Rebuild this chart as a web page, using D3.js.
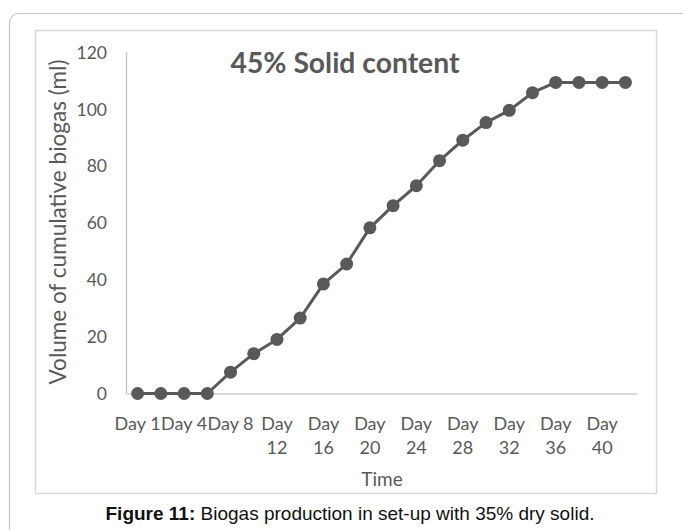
<!DOCTYPE html>
<html>
<head>
<meta charset="utf-8">
<script src="https://cdn.jsdelivr.net/npm/d3@7"></script>
<style>
  html, body { margin: 0; padding: 0; background: #fff; }
  svg { display: block; }
</style>
</head>
<body>
<svg id="chart" width="683" height="530"></svg>
<script>
// Categories (sampling days) and cumulative biogas volume (ml)
const categories = ["Day 1", "Day 2", "Day 4", "Day 6", "Day 8", "Day 10", "Day 12", "Day 14",
  "Day 16", "Day 18", "Day 20", "Day 22", "Day 24", "Day 26", "Day 28", "Day 30",
  "Day 32", "Day 34", "Day 36", "Day 38", "Day 40", "Day 42"];
const volumes = [0, 0, 0, 0, 7.5, 14, 19, 26.5, 38.5, 45.5, 58.2, 66, 73, 81.8,
  89, 95.2, 99.5, 105.7, 109.3, 109.3, 109.3, 109.3];
const yTicks = [0, 20, 40, 60, 80, 100, 120];
// Excel-style: every second category is labelled
const xTickLabels = ["Day 1", "Day 4", "Day 8", "Day 12", "Day 16", "Day 20",
  "Day 24", "Day 28", "Day 32", "Day 36", "Day 40"];

const chartTitle = "45% Solid content";
const yTitle = "Volume of cumulative biogas (ml)";
const xTitle = "Time";

const ink = "#595959";
const svg = d3.select("#chart");

// fit a text element to a target width by adjusting its font size
function fitWidth(sel, target) {
  const w = sel.node().getComputedTextLength();
  const fs = parseFloat(sel.attr("font-size"));
  sel.attr("font-size", (fs * target / w).toFixed(2));
}

// outer figure frame
svg.append("rect")
  .attr("x", 9.5).attr("y", 13.5).attr("width", 690).attr("height", 560)
  .attr("rx", 9).attr("fill", "none").attr("stroke", "#c8c8c8").attr("stroke-width", 1.2);

// chart area border
svg.append("rect")
  .attr("x", 35.5).attr("y", 30.5).attr("width", 621).attr("height", 463)
  .attr("fill", "#fff").attr("stroke", "#d9d9d9").attr("stroke-width", 1.5);

const plot = { left: 126, right: 637, top: 52, bottom: 393.5 };

const x = d3.scaleBand().domain(categories).range([plot.left, plot.right]).padding(0);
const cx = d => x(d) + x.bandwidth() / 2;
const y = d3.scaleLinear().domain([0, 120]).range([plot.bottom, plot.top]);

// y axis
const yAxis = svg.append("g")
  .attr("transform", `translate(${plot.left},0)`)
  .call(d3.axisLeft(y).tickValues(yTicks).tickSize(0).tickPadding(19));
yAxis.select(".domain").attr("stroke", "#bfbfbf").attr("stroke-width", 1.3);
yAxis.selectAll("text")
  .attr("font-family", "Lato, sans-serif").attr("font-size", 17.5).attr("fill", ink)
  .attr("dy", "0.35em");

// x axis
const labelSet = new Set(xTickLabels);
const xAxis = svg.append("g")
  .attr("transform", `translate(0,${plot.bottom})`)
  .call(d3.axisBottom(x).tickSize(0).tickPadding(0)
    .tickFormat(d => labelSet.has(d) ? d : ""));
xAxis.select(".domain").attr("stroke", "#d0d0d0").attr("stroke-width", 1.5);
const maxLabelW = x.bandwidth() * 2;
xAxis.selectAll("text")
  .attr("font-family", "Lato, sans-serif").attr("font-size", 18).attr("fill", ink)
  .attr("y", 36).attr("dy", 0)
  .each(function () {
    const t = d3.select(this);
    const label = t.text();
    if (!label) return;
    if (this.getComputedTextLength() > maxLabelW) {
      const words = label.split(" ");
      t.text(null);
      words.forEach((w, i) => {
        t.append("tspan").attr("x", 0).attr("dy", i === 0 ? 0 : 24.5).text(w);
      });
    }
  });

// line and markers
const line = d3.line().x((d, i) => cx(categories[i])).y(d => y(d));
svg.append("path")
  .datum(volumes)
  .attr("d", line)
  .attr("fill", "none").attr("stroke", ink).attr("stroke-width", 3)
  .attr("stroke-linejoin", "round");
svg.append("g").selectAll("circle")
  .data(volumes)
  .join("circle")
  .attr("cx", (d, i) => cx(categories[i]))
  .attr("cy", d => y(d))
  .attr("r", 6.5)
  .attr("fill", ink);

// chart title
const title = svg.append("text")
  .attr("x", 345).attr("y", 73).attr("text-anchor", "middle")
  .attr("font-family", "Lato, sans-serif").attr("font-weight", "bold")
  .attr("font-size", 25).attr("fill", ink).text(chartTitle);
fitWidth(title, 229);

// axis titles
const yt = svg.append("text")
  .attr("transform", "translate(66,222) rotate(-90)")
  .attr("text-anchor", "middle")
  .attr("font-family", "Lato, sans-serif").attr("font-size", 19)
  .attr("fill", ink).text(yTitle);
fitWidth(yt, 325);

svg.append("text")
  .attr("x", 382).attr("y", 486).attr("text-anchor", "middle")
  .attr("font-family", "Lato, sans-serif").attr("font-size", 19)
  .attr("fill", ink).text(xTitle);

// figure caption
const cap = svg.append("text")
  .attr("x", 350).attr("y", 520).attr("text-anchor", "middle")
  .attr("font-family", "'Liberation Sans', Arial, sans-serif").attr("font-size", 16)
  .attr("fill", "#111");
cap.append("tspan").attr("font-weight", "bold").text("Figure 11:");
cap.append("tspan").text(" Biogas production in set-up with 35% dry solid.");
fitWidth(cap, 489);
</script>
</body>
</html>
